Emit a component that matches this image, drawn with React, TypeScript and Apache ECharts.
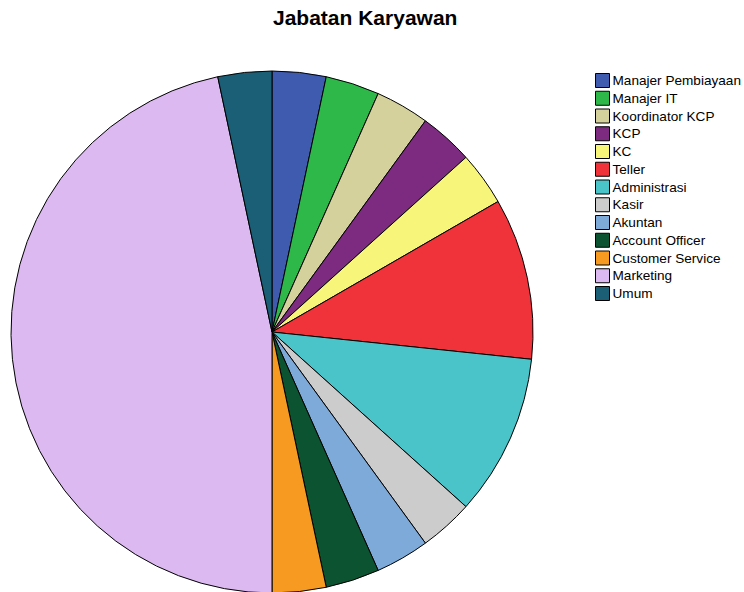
import React, { useEffect, useRef } from "react";
import * as echarts from "echarts";

const categories = [
  "Manajer Pembiayaan",
  "Manajer IT",
  "Koordinator KCP",
  "KCP",
  "KC",
  "Teller",
  "Administrasi",
  "Kasir",
  "Akuntan",
  "Account Officer",
  "Customer Service",
  "Marketing",
  "Umum",
];
const values = [1, 1, 1, 1, 1, 3, 3, 1, 1, 1, 1, 14, 1];
const colors = [
  "#3f5bb0",
  "#2fb84a",
  "#d5d19c",
  "#7d2b80",
  "#f8f67a",
  "#f0333a",
  "#4ac3c9",
  "#cccccc",
  "#7eaad9",
  "#0c5431",
  "#f69a22",
  "#dcb9f0",
  "#1b5f76",
];

export default function App() {
  const ref = useRef<HTMLDivElement>(null);
  useEffect(() => {
    const chart = echarts.init(ref.current!, null, { renderer: "svg" });
    chart.setOption({
      animation: false,
      backgroundColor: "#ffffff",
      title: {
        text: "Jabatan Karyawan",
        left: 273,
        top: 7,
        padding: 0,
        textStyle: {
          fontFamily: "Liberation Sans, Arial, sans-serif",
          fontWeight: "bold",
          fontSize: 21,
          color: "#000",
        },
      },
      legend: {
        orient: "vertical",
        left: 595,
        top: 73,
        padding: 0,
        itemWidth: 14,
        itemHeight: 14,
        itemGap: 2.75,
        icon: "rect",
        itemStyle: { borderColor: "#000", borderWidth: 1 },
        textStyle: {
          fontFamily: "Liberation Sans, Arial, sans-serif",
          fontSize: 13.6,
          lineHeight: 14,
          color: "#000",
          padding: [0, 0, 0, -2],
        },
        data: categories,
      },
      series: [
        {
          type: "pie",
          center: [272, 332],
          radius: 261,
          startAngle: 90,
          clockwise: true,
          label: { show: false },
          labelLine: { show: false },
          emphasis: { disabled: true },
          itemStyle: { borderColor: "#000", borderWidth: 1 },
          data: categories.map((c, i) => ({
            name: c,
            value: values[i],
            itemStyle: { color: colors[i] },
          })),
        },
      ],
    });
    return () => chart.dispose();
  }, []);
  return (
    <div
      ref={ref}
      style={{ position: "fixed", left: 0, top: 0, width: 744, height: 592 }}
    />
  );
}
